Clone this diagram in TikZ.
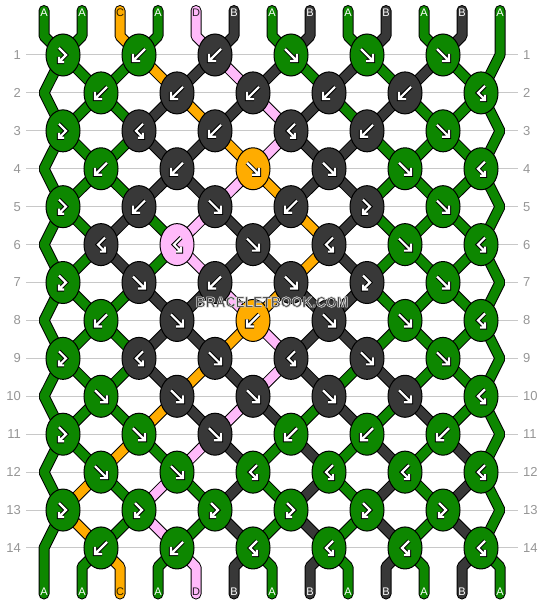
\documentclass[tikz,border=0pt]{standalone}
\usepackage{fontspec}
\setmainfont{Liberation Sans}
\usetikzlibrary{shapes.geometric}
\definecolor{cA}{RGB}{13,135,0}
\definecolor{cB}{RGB}{56,56,56}
\definecolor{cC}{RGB}{255,172,0}
\definecolor{cD}{RGB}{255,186,250}
\definecolor{tA}{RGB}{255,255,255}
\definecolor{tB}{RGB}{255,255,255}
\definecolor{tC}{RGB}{40,30,0}
\definecolor{tD}{RGB}{40,30,40}
\definecolor{gridc}{RGB}{200,200,200}
\definecolor{numc}{RGB}{150,150,150}
\definecolor{wmc}{RGB}{70,70,70}
\pgfdeclarelayer{grid}\pgfdeclarelayer{outl}\pgfdeclarelayer{thr}
\pgfsetlayers{grid,outl,thr,main}
\tikzset{
 knot/.style={ellipse, draw=black, line width=1pt, minimum width=34pt, minimum height=42pt, inner sep=0pt},
 thrO/.style={draw=black, line width=11pt, line cap=round, line join=bevel},
 thrI/.style={line width=9pt, line cap=round, line join=bevel},
 symO/.style={draw=black, line width=4.2pt, line join=miter, line cap=square},
 symI/.style={draw=white, line width=2.2pt, line join=miter, line cap=square},
 rownum/.style={text=numc, font=\fontsize{13}{15}\selectfont, inner sep=0pt},
 lab/.style={font=\fontsize{11}{13}\selectfont, inner sep=0pt},
 wm/.style={font=\bfseries\fontsize{15}{17}\selectfont, inner sep=0pt},
}
\newcommand\twopass[1]{\draw[symO] #1; \draw[symI] #1;}
\newcommand\symf{\twopass{(-6,-6)--(6,6) (6,-1)--(6,6)--(-1,6)}}
\newcommand\symb{\twopass{(6,-6)--(-6,6) (-6,-1)--(-6,6)--(1,6)}}
\newcommand\symfb{\twopass{(-4,-7)--(3,0)--(-4,7) (-4,2)--(-4,7)--(1,7)}}
\newcommand\symbf{\twopass{(4,-7)--(-3,0)--(4,7) (4,2)--(4,7)--(-1,7)}}
\begin{document}
\begin{tikzpicture}[x=1pt,y=-1pt]
\useasboundingbox (0,0) rectangle (544,604);
\begin{pgfonlayer}{grid}
\fill[white] (0,0) rectangle (544,604);
\foreach \kr in {1,...,14}{
 \pgfmathsetmacro\ky{55+37.92*(\kr-1)}
 \draw[gridc, line width=1pt] (26,\ky) -- (518,\ky);
 \node[rownum, anchor=east] (RL\kr) at (21,\ky) {\kr};
 \node[rownum, anchor=west] (RR\kr) at (523,\ky) {\kr};
 \pgfmathsetmacro\ex{44+456*mod(\kr,2)}
 \coordinate (E\kr) at (\ex,\ky);
}
\end{pgfonlayer}
% knots
\foreach \kr/\lst in {
1/{fb/A,b/A,b/B,f/A,f/A,f/A},
2/{b/A,b/B,b/B,b/B,b/B,bf/A},
3/{fb/A,bf/B,b/B,bf/B,b/B,f/A},
4/{b/A,b/B,f/C,f/B,f/A,bf/A},
5/{fb/A,b/B,f/B,b/B,fb/B,f/A},
6/{bf/B,bf/D,f/B,bf/B,f/A,bf/A},
7/{fb/A,f/B,b/B,f/B,fb/B,f/A},
8/{b/A,f/B,b/C,f/B,f/A,bf/A},
9/{fb/A,bf/B,f/B,bf/B,f/B,f/A},
10/{f/A,f/B,f/B,f/B,f/B,bf/A},
11/{fb/A,f/A,f/B,b/A,b/A,b/A},
12/{f/A,f/A,bf/A,bf/A,bf/A,bf/A},
13/{fb/A,fb/A,fb/A,fb/A,fb/A,fb/A},
14/{b/A,b/A,bf/A,bf/A,bf/A,bf/A}}{
 \pgfmathsetmacro\ky{55+37.92*(\kr-1)}
 \foreach \kt/\kk [count=\kc] in \lst {
  \pgfmathsetmacro\kx{76*\kc-13+38*(1-mod(\kr,2))}
  \node[knot, fill=c\kk] (K-\kr-\kc) at (\kx,\ky) {};
  \begin{scope}[shift={(\kx,\ky)}]\csname sym\kt\endcsname\end{scope}
 }
}
% inner thread segments
\foreach \kr/\lst in {
1/{A,A,A,C,B,D,B,A,B,A,B,A,A},
2/{A,A,A,B,C,B,D,B,A,B,A,A,A},
3/{A,A,A,B,B,C,D,B,B,A,A,A,A},
4/{A,A,A,B,B,D,C,B,B,A,A,A,A},
5/{A,A,B,A,D,B,B,C,B,A,A,A,A},
6/{A,A,B,A,D,B,B,C,B,A,A,A,A},
7/{A,A,A,B,B,D,C,B,B,A,A,A,A},
8/{A,A,A,B,B,C,D,B,B,A,A,A,A},
9/{A,A,A,B,C,B,D,B,A,B,A,A,A},
10/{A,A,A,C,B,D,B,A,B,A,B,A,A},
11/{A,A,C,A,D,B,A,B,A,B,A,B,A},
12/{A,C,A,D,A,B,A,B,A,B,A,B,A},
13/{A,C,A,D,A,B,A,B,A,B,A,B,A}}{
 \foreach \cl [count=\pp] in \lst {
  \ifnum\pp>1 \ifnum\pp<13
   \pgfmathtruncatemacro\ca{int((\pp+mod(\kr,2))/2)}
   \pgfmathtruncatemacro\cb{int((\pp+mod(\kr+1,2))/2)}
   \pgfmathtruncatemacro\rr{\kr+1}
   \begin{pgfonlayer}{outl}\draw[thrO] (K-\kr-\ca.center) -- (K-\rr-\cb.center);\end{pgfonlayer}
   \begin{pgfonlayer}{thr}\draw[thrI, draw=c\cl] (K-\kr-\ca.center) -- (K-\rr-\cb.center);\end{pgfonlayer}
  \fi\fi
 }
}
% top and bottom ends
\foreach \cl [count=\pp] in {A,A,C,A,D,B,A,B,A,B,A,B,A}{
 \pgfmathsetmacro\xp{44+38*(\pp-1)}
 \coordinate (T\pp) at (\xp,10.5);
 \coordinate (U\pp) at (\xp,594);
 \node[lab, text=t\cl] (LT\pp) at (\xp,13) {\cl};
 \node[lab, text=t\cl] (LB\pp) at (\xp,592) {\cl};
 \ifnum\pp>1 \ifnum\pp<13
  \pgfmathtruncatemacro\ca{int((\pp+1)/2)}
  \pgfmathtruncatemacro\cb{int(\pp/2)}
  \begin{pgfonlayer}{outl}
   \draw[thrO] (T\pp) -- ++(0,25.5) -- (K-1-\ca.center);
   \draw[thrO] (K-14-\cb.center) -- (\xp,567) -- (U\pp);
  \end{pgfonlayer}
  \begin{pgfonlayer}{thr}
   \draw[thrI, draw=c\cl] (T\pp) -- ++(0,25.5) -- (K-1-\ca.center);
   \draw[thrI, draw=c\cl] (K-14-\cb.center) -- (\xp,567) -- (U\pp);
  \end{pgfonlayer}
 \fi\fi
}
% edge strings
\def\leftchain{(T1) -- ++(0,25.5) -- (K-1-1.center) -- (E2) -- (K-3-1.center) -- (E4) -- (K-5-1.center) -- (E6) -- (K-7-1.center) -- (E8) -- (K-9-1.center) -- (E10) -- (K-11-1.center) -- (E12) -- (K-13-1.center) -- (E14) -- (U1)}
\def\rightchain{(T13) -- (E1) -- (K-2-6.center) -- (E3) -- (K-4-6.center) -- (E5) -- (K-6-6.center) -- (E7) -- (K-8-6.center) -- (E9) -- (K-10-6.center) -- (E11) -- (K-12-6.center) -- (E13) -- (K-14-6.center) -- (500,567) -- (U13)}
\begin{pgfonlayer}{outl}
 \draw[thrO] \leftchain;
 \draw[thrO] \rightchain;
\end{pgfonlayer}
\begin{pgfonlayer}{thr}
 \draw[thrI, draw=cA] \leftchain;
 \draw[thrI, draw=cA] \rightchain;
\end{pgfonlayer}
% watermark (filled text with a light stroked outline)
\node[wm, text=wmc] (WM) at (272,302) {\special{pdf:literal direct q 0.85 0.85 0.85 RG 0.6 w 2 Tr}\scalebox{0.92}[1]{BRACELETBOOK.COM}\special{pdf:literal direct Q}};
\end{tikzpicture}
\end{document}
